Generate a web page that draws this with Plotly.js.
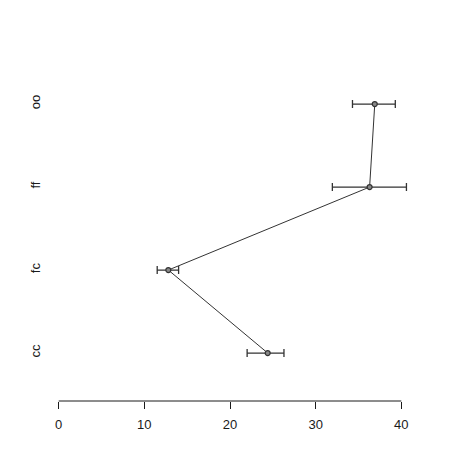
<!DOCTYPE html>
<html>
<head>
<meta charset="utf-8">
<script src="https://cdn.plot.ly/plotly-3.0.1.min.js"></script>
<style>
  html, body { margin: 0; padding: 0; background: #fff; }
  #chart { width: 474px; height: 474px; }
</style>
</head>
<body>
<div id="chart"></div>
<script>
// groups from bottom to top
var groups = ['cc', 'fc', 'ff', 'oo'];
var means = [24.4, 12.8, 36.3, 36.9];
var lower = [22.0, 11.5, 31.95, 34.3];
var upper = [26.3, 14.0, 40.6, 39.3];
var xTicks = [0, 10, 20, 30, 40];

var errPlus = upper.map(function (u, i) { return u - means[i]; });
var errMinus = lower.map(function (l, i) { return means[i] - l; });

CHART = document.getElementById('chart');
layout = {
  width: 474,
  height: 474,
  margin: {l: 45, r: 59, t: 56, b: 73},
  paper_bgcolor: '#ffffff',
  plot_bgcolor: '#ffffff',
  showlegend: false,
  font: {family: 'Liberation Sans, Arial, sans-serif', size: 13, color: '#1a1a1a'},
  xaxis: {
    range: [-1.6, 41.6],
    tickvals: xTicks,
    ticktext: xTicks.map(String),
    ticks: 'outside',
    ticklen: 7,
    tickwidth: 1,
    tickcolor: '#1a1a1a',
    ticklabelstandoff: 4,
    showgrid: false,
    zeroline: false,
    showline: false,
    fixedrange: true
  },
  yaxis: {
    type: 'category',
    categoryorder: 'array',
    categoryarray: groups,
    range: [-0.578, 3.579],
    tickangle: -90,
    ticks: '',
    ticklabelstandoff: 1,
    showgrid: false,
    zeroline: false,
    showline: false,
    fixedrange: true
  },
  shapes: [{
    // R style axis line, spanning only the tick range
    type: 'line', xref: 'x', yref: 'paper',
    x0: xTicks[0], x1: xTicks[xTicks.length - 1], y0: 0, y1: 0,
    line: {color: '#1a1a1a', width: 1}
  }]
};

Plotly.newPlot(CHART, [
  {
    x: means,
    y: groups,
    type: 'scatter',
    mode: 'lines+markers',
    line: {color: '#333333', width: 1},
    marker: {size: 5, color: '#888888', line: {color: '#333333', width: 1.2}},
    error_x: {
      type: 'data',
      symmetric: false,
      array: errPlus,
      arrayminus: errMinus,
      color: '#333333',
      thickness: 1.3,
      width: 4
    },
    cliponaxis: false
  }], layout, {staticPlot: true});
</script>
</body>
</html>
